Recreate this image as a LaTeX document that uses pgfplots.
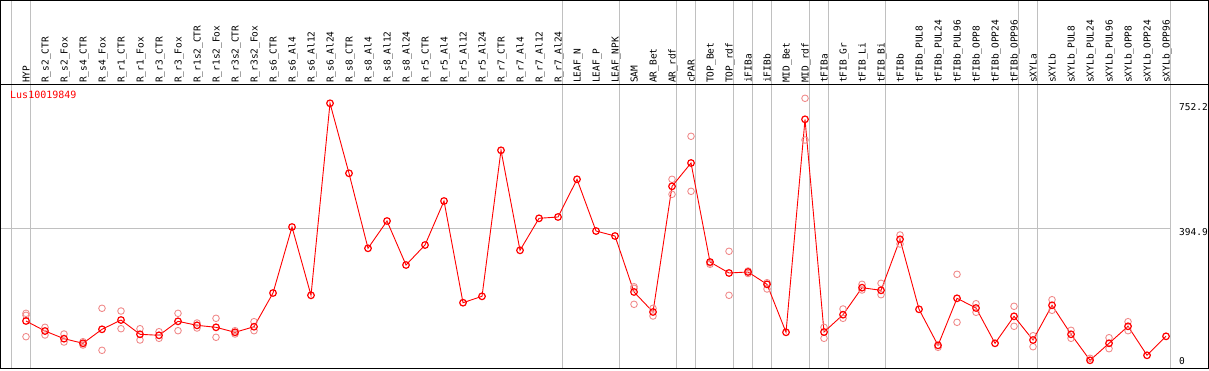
\documentclass[border=0pt]{standalone}
\usepackage{pgfplots}
\pgfplotsset{compat=1.18}
\usepackage{pgfplotstable}
\usepackage{fontspec}
\newfontfamily\pix{DejaVu Sans Mono}
\definecolor{rep}{RGB}{240,140,140}
\definecolor{grd}{RGB}{192,192,192}

\pgfplotstableread{
i v
1 128.4
2 99.7
3 77.7
4 64.5
5 104.6
6 131.2
7 90.3
8 87.4
9 127.5
10 116.0
11 110.3
12 96.0
13 112.0
14 208.6
15 397.7
16 202.0
17 752.2
18 551.6
19 336.7
20 414.9
21 288.8
22 346.1
23 472.2
24 180.8
25 199.1
26 617.5
27 330.9
28 422.6
29 426.4
30 534.4
31 386.2
32 371.9
33 211.5
34 154.2
35 514.3
36 581.1
37 297.4
38 265.9
39 268.8
40 233.5
41 96.0
42 706.3
43 96.8
44 146.4
45 223.8
46 216.3
47 362.5
48 161.9
49 58.7
50 193.4
51 165.6
52 64.5
53 141.8
54 73.9
55 173.4
56 90.3
57 15.8
58 64.5
59 113.2
60 30.1
61 84.5
}\means

\pgfplotstableread{
i v
1 150.4
1 144.7
1 83.4
2 110.3
2 88.3
3 91.1
3 68.2
4 69.0
4 59.6
5 164.8
5 44.4
6 157.0
6 106.3
7 106.3
7 73.9
8 97.7
8 78.8
9 150.4
9 100.6
10 122.6
10 108.3
11 136.1
11 81.7
12 100.6
12 91.1
13 126.4
13 100.6
33 226.6
33 222.1
33 176.2
34 164.8
34 142.7
35 534.4
35 491.4
36 657.6
36 500.0
37 290.8
37 294.6
38 328.1
38 202.0
39 271.6
39 264.5
40 238.1
40 220.1
42 766.5
42 647.0
43 110.3
43 78.8
44 162.8
44 136.1
45 233.5
45 217.2
46 236.4
46 203.7
47 374.8
47 349.0
49 53.0
50 262.2
50 124.6
51 177.9
51 153.3
53 170.5
53 113.2
54 86.2
54 54.7
55 189.4
55 159.0
56 101.7
56 78.8
57 21.5
58 80.5
58 49.0
59 126.4
59 100.6
}\reps

\begin{document}
\begin{tikzpicture}[x=1pt,y=1pt]
\useasboundingbox (0,0) rectangle (1209,370);
% group separators and grid
\foreach \p in {11.2,30.2,562.2,619.2,676.2,695.2,733.2,752.2,771.2,809.2,828.2,885.2,1018.2,1037.2,1170.2}
  \draw[grd, line width=1pt] (\p,2) -- (\p,370);
\draw[grd, line width=1pt] (1,142) -- (1170.2,142);
\begin{axis}[
  at={(1pt,2pt)}, anchor=south west,
  scale only axis, width=1170pt, height=283pt,
  xmin=-0.3158, xmax=61.263, ymin=-6.3, ymax=804.6,
  axis line style={draw=none},
  clip=false,
  xtick={1,...,61},
  xticklabels={HYP,R\_s2\_CTR,R\_s2\_Fox,R\_s4\_CTR,R\_s4\_Fox,R\_r1\_CTR,R\_r1\_Fox,R\_r3\_CTR,R\_r3\_Fox,R\_r1s2\_CTR,R\_r1s2\_Fox,R\_r3s2\_CTR,R\_r3s2\_Fox,R\_s6\_CTR,R\_s6\_Al4,R\_s6\_Al12,R\_s6\_Al24,R\_s8\_CTR,R\_s8\_Al4,R\_s8\_Al12,R\_s8\_Al24,R\_r5\_CTR,R\_r5\_Al4,R\_r5\_Al12,R\_r5\_Al24,R\_r7\_CTR,R\_r7\_Al4,R\_r7\_Al12,R\_r7\_Al24,LEAF\_N,LEAF\_P,LEAF\_NPK,SAM,AR\_Bet,AR\_rdf,cPAR,TOP\_Bet,TOP\_rdf,iFIBa,iFIBb,MID\_Bet,MID\_rdf,tFIBa,tFIB\_Gr,tFIB\_Li,tFIB\_Bi,tFIBb,tFIBb\_PUL8,tFIBb\_PUL24,tFIBb\_PUL96,tFIBb\_OPP8,tFIBb\_OPP24,tFIBb\_OPP96,sXYLa,sXYLb,sXYLb\_PUL8,sXYLb\_PUL24,sXYLb\_PUL96,sXYLb\_OPP8,sXYLb\_OPP24,sXYLb\_OPP96},
  xticklabel pos=right,
  major tick length=0pt,
  xticklabel style={rotate=90, anchor=west, inner xsep=2pt, inner ysep=0pt,
    font=\pix\fontsize{9.5}{10}\selectfont, text height=7pt, text depth=0pt},
  ytick=\empty,
]
\addplot[only marks, mark=o, mark size=3.3pt, color=rep, mark options={line width=0.9pt}] table[x=i,y=v] {\reps};
\addplot[red, line width=0.9pt, mark=o, mark size=3.3pt, mark options={line width=1.2pt}] table[x=i,y=v] {\means};
\node[anchor=north west, red, inner sep=0pt, font=\pix\fontsize{10}{11}\selectfont, xshift=9pt, yshift=-6pt] at (rel axis cs:0,1) {Lus10019849};
\node[anchor=north west, inner sep=0pt, font=\pix\fontsize{9.5}{10}\selectfont, xshift=8pt] at (axis cs:61.263,752.2) {752.2};
\node[anchor=north west, inner sep=0pt, font=\pix\fontsize{9.5}{10}\selectfont, xshift=8pt] at (axis cs:61.263,394.9) {394.9};
\node[anchor=south west, inner sep=0pt, font=\pix\fontsize{9.5}{10}\selectfont, xshift=8pt, yshift=3pt] at (axis cs:61.263,-6.3) {0};
\end{axis}
% frame
\draw[black, line width=1pt] (0.5,1.5) rectangle (1208.5,369.5);
\draw[black, line width=1pt] (0,285) -- (1209,285);
\end{tikzpicture}
\end{document}
